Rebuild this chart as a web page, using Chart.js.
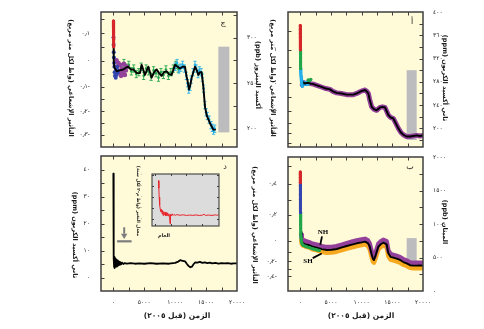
<!DOCTYPE html>
<html lang="ar"><head><meta charset="utf-8">
<script src="https://cdn.jsdelivr.net/npm/chart.js@4.4.1/dist/chart.umd.min.js"></script>
<style>
html,body{margin:0;padding:0;background:#fff;}
#wrap{position:relative;width:484px;height:329px;overflow:hidden;background:#fff}
#wrap canvas{position:absolute;left:0;top:0}
</style></head><body>
<div id="wrap">
<canvas id="pC" width="484" height="329"></canvas>
<canvas id="pA" width="484" height="329"></canvas>
<canvas id="pD" width="484" height="329"></canvas>
<canvas id="pB" width="484" height="329"></canvas>
<canvas id="pI" width="484" height="329"></canvas>
</div>
<script>
// ---------------- data ----------------
const xTickVals = [0, 5000, 10000, 15000, 20000];
const xTickLabels = ['٠', '٥٠٠٠', '١٠٠٠٠', '١٥٠٠٠', '٢٠٠٠٠'];
const xMinorVals = [0, 2500, 5000, 7500, 10000, 12500, 15000, 17500, 20000];

// CO2 (panel أ)
const co2PpmTicks = [200, 240, 280, 320, 360, 400];
const co2PpmLabels = ['٢٠٠', '٢٤٠', '٢٨٠', '٣٢٠', '٣٦٠', '٤٠٠'];
const co2PpmMinor = [180, 200, 220, 240, 260, 280, 300, 320, 340, 360, 380, 400];
const co2RfTicks = [1, 0, -1, -2];
const co2RfLabels = ['١', '٠', '١-', '٢-'];
const co2RfMinor = [1.5, 1, 0.5, 0, -0.5, -1, -1.5, -2, -2.5];
const co2Line = [[0,375],[15,355],[30,335],[50,315],[75,305],[100,298],[150,288],[200,283],[250,279],[330,275],[500,279],[800,277],[1000,278],[1315,278],[1700,277],[2128,276],[2700,274],[3215,272],[4000,269],[4845,267],[5400,263],[5931,261],[6700,260],[7561,258],[8100,258],[8648,258],[9200,260],[9733,263],[10200,265],[10548,266],[10800,264],[11092,260],[11300,250],[11635,237],[12000,233],[12450,231],[12993,236],[13400,237],[13807,236],[14100,229],[14350,223],[14700,219],[15165,217],[15600,208],[15980,200],[16400,193],[16795,189],[17300,186],[17882,186],[18400,187],[18969,188],[19500,187],[20000,188]];
const co2Red = [[0,377],[4,370],[8,363],[12,356],[18,349],[24,342],[32,335]];
const co2Green = [[32,335],[38,329],[45,322],[52,315],[60,309],[68,303]];
const co2GreenLate = [[1300,283],[1500,282],[1700,284]];
const co2Blue = [[68,303],[80,300],[95,296],[110,292],[130,289],[160,285],[200,281],[260,277],[320,272]];
const co2BlueLate = [[400,276],[600,279],[800,276],[1000,278],[1200,276]];
const co2Gray = [[17340, 180], [18970, 300]];

// N2O (panel ج)
const n2oPpbTicks = [200, 250, 300];
const n2oPpbLabels = ['٢٠٠', '٢٥٠', '٣٠٠'];
const n2oPpbMinor = [200, 225, 250, 275, 300, 325];
const n2oRfTicks = [0.1, 0, -0.1, -0.2, -0.3];
const n2oRfLabels = ['٠٫١', '٠', '٠٫١-', '٠٫٢-', '٠٫٣-'];
const n2oRfMinor = [0.15, 0.1, 0.05, 0, -0.05, -0.1, -0.15, -0.2, -0.25, -0.3, -0.35];
const n2oLine = [[0,316],[30,300],[60,285],[100,275],[150,268],[265,266],[534,263],[1000,264],[1612,265],[2000,267],[2421,268],[2800,265],[3230,265],[3800,261],[4309,261],[4578,270],[5117,259],[5657,268],[6196,256],[6600,262],[7005,265],[7400,261],[7813,258],[8200,262],[8622,263],[9000,260],[9431,259],[9970,270],[10400,268],[10779,266],[11200,268],[11588,268],[11850,257],[12019,252],[12235,243],[12450,248],[12666,256],[13205,268],[13500,264],[13745,259],[14000,262],[14284,262],[14553,246],[14823,224],[15093,215],[15632,206],[16171,199],[16441,199]];
const n2oRed = [[0,318],[15,312],[30,305],[50,298],[80,290]];
const n2oBlue = [[20,300],[40,292],[60,284],[90,278],[120,272],[160,268],[200,262],[250,258],[300,262],[380,256],[450,265],[520,259],[600,268],[700,261],[800,264]];
const n2oPurple = [[500,275],[650,268],[800,272],[950,262],[1100,270],[1250,258],[1400,266],[1550,262],[1700,271],[1850,259],[2000,264],[2150,268]];
const n2oGreen = [[1700,272],[2100,267],[2500,270],[2900,263],[3300,266],[3700,260],[4100,262],[4500,268],[4900,258],[5300,266],[5700,263],[6100,257],[6500,264],[6900,261],[7300,256],[7700,262],[8100,259],[8500,265],[8900,258],[9300,262],[9700,266],[10100,270],[10500,266]];
const n2oCyan = [[10000,268],[10300,272],[10600,265],[10900,267],[11200,270],[11500,266],[11800,258],[12000,250],[12200,243],[12400,246],[12600,254],[12900,262],[13200,270],[13400,266],[13700,260],[13900,264],[14200,262],[14400,256],[14600,244],[14800,226],[15000,218],[15200,214],[15500,210],[15800,204],[16000,201],[16200,198],[16400,200]];
const n2oGray = [[16980, 196], [18760, 290]];

// CH4 (panel ب)
const ch4PpbTicks = [0, 500, 1000, 1500, 2000];
const ch4PpbLabels = ['٠', '٥٠٠', '١٠٠٠', '١٥٠٠', '٢٠٠٠'];
const ch4PpbMinor = [0, 250, 500, 750, 1000, 1250, 1500, 1750, 2000];
const ch4RfTicks = [0.4, 0.2, 0, -0.2, -0.4];
const ch4RfLabels = ['٠٫٤', '٠٫٢', '٠', '٠٫٢-', '٠٫٤-'];
const ch4RfMinor = [0.5, 0.4, 0.3, 0.2, 0.1, 0, -0.1, -0.2, -0.3, -0.4];
const ch4Line = [[0,1775],[20,1650],[40,1450],[60,1200],[90,1000],[120,880],[180,790],[250,745],[400,722],[500,712],[800,700],[1315,687],[2000,662],[2677,647],[3500,625],[4306,612],[5100,615],[5935,627],[6800,650],[7565,672],[8400,692],[9195,712],[10000,726],[10548,736],[11000,715],[11300,670],[11600,560],[11850,478],[12015,463],[12300,540],[12715,661],[13100,697],[13530,721],[14080,697],[14350,562],[14700,510],[15160,498],[15700,482],[16250,463],[16800,432],[17340,413],[17900,385],[18420,378],[19000,378],[19500,380],[20000,378]];
const ch4NH = [[150,840],[250,790],[400,765],[600,755],[1000,742],[1500,725],[2000,705],[2700,690],[3500,668],[4300,655],[5100,658],[5900,670],[6800,692],[7600,715],[8400,735],[9200,755],[10000,768],[10550,778],[11000,758],[11300,712],[11600,602],[11850,520],[12020,505],[12300,582],[12720,703],[13100,740],[13530,763],[14080,740],[14350,605],[14700,552],[15160,540],[15700,524],[16250,505],[16800,474],[17340,455],[17900,427],[18420,420],[19000,420],[19500,422],[20000,420]];
const ch4SH = [[150,760],[250,705],[400,682],[600,672],[1000,660],[1500,648],[2000,622],[2700,607],[3500,585],[4300,572],[5100,575],[5900,587],[6800,610],[7600,632],[8400,652],[9200,672],[10000,686],[10550,696],[11000,675],[11300,630],[11600,520],[11850,438],[12020,423],[12300,500],[12720,621],[13100,657],[13530,681],[14080,657],[14350,522],[14700,470],[15160,458],[15700,442],[16250,423],[16800,392],[17340,373],[17900,345],[18420,338],[19000,338],[19500,340],[20000,338]];
const ch4Red = [[0,1775],[4,1735],[8,1695],[12,1655],[16,1620]];
const ch4Blue = [[16,1620],[20,1580],[24,1510],[28,1440],[32,1370],[36,1300],[40,1230],[45,1170]];
const ch4Green = [[45,1170],[50,1110],[58,1050],[66,990],[75,930],[85,870],[100,830],[130,790],[180,740],[300,700],[500,680],[800,668],[1200,655],[1600,645],[2000,630],[2600,615],[3100,605]];
const ch4Gray = [[17340, 400], [18970, 790]];
const ch4Notes = { NH: [3700, 885], SH: [1250, 448] };
const ch4Pointers = { NH: [[3540, 815], [3260, 690]], SH: [[2020, 490], [3490, 560]] };

// rate of change (panel د)
const rateTicks = [0, 10, 20, 30, 40];
const rateLabels = ['٠', '١٠', '٢٠', '٣٠', '٤٠'];
const rateMinor = [-5, 0, 5, 10, 15, 20, 25, 30, 35, 40, 45];
const rateLine = [[0,38.5],[20,30],[40,20],[60,12],[90,7],[120,4],[150,7.5],[180,3.5],[220,7.2],[260,3.8],[300,6.8],[350,4.2],[400,7],[450,4],[500,6.5],[560,4.5],[620,6.3],[700,4.3],[780,6],[860,4.6],[950,5.8],[1050,4.7],[1150,5.6],[1250,4.9],[1400,5.5],[1600,5.0],[1800,5.3],[2200,5.1],[2800,5.3],[3500,5.1],[4200,5.2],[5000,5.1],[6000,5.3],[7000,5.1],[8000,5.2],[9000,5.1],[10000,5.4],[10500,5.9],[10800,6.4],[11200,6.2],[11600,6.0],[11900,5.0],[12150,4.3],[12450,3.8],[12700,4.0],[13000,5.0],[13250,5.6],[13600,5.5],[14000,5.8],[14400,5.4],[14800,5.6],[15200,5.3],[15600,5.5],[16000,5.2],[16500,5.4],[17000,5.1],[17500,5.3],[18000,5.2],[18500,5.3],[19000,5.1],[19500,5.2],[20000,5.2]];
const rateArrow = { x: 1750, top: 18.6, head: 16.2, tip: 14.3, barY: 13.4, barFrom: 600, barTo: 2950 };

// inset
const insetXTicks = [20000, 15000, 10000, 5000, 0];
const insetXLabels = ['٢٠٠٠٠', '١٥٠٠٠', '١٠٠٠٠', '٥٠٠٠', '٠'];
const insetYTicks = [0, 10, 20, 30, 40];
const insetYLabels = ['٠', '١٠', '٢٠', '٣٠', '٤٠'];
const insetRed = [[18750,35],[18650,28],[18550,20],[18400,13],[18200,9],[18000,7],[17800,9],[17650,5],[17500,8],[17300,3.5],[17100,7],[16900,4],[16700,6.5],[16500,3],[16300,6],[16100,3.5],[15900,5.5],[15700,3],[15500,5],[15300,2.5],[15150,-4],[15000,4.5],[14800,3],[14500,5],[14200,3.5],[13900,4.5],[13500,3.6],[13000,4.3],[12000,3.7],[11000,4.1],[10000,3.5],[9000,3.9],[8000,3.6],[7000,4.0],[6000,3.5],[5000,3.8],[4500,4.6],[4000,3.6],[3000,3.9],[2000,3.5],[1000,4.1],[500,3.7],[0,4.0]];

// ---------------- helpers ----------------
const F = '"DejaVu Sans", sans-serif';
const W = 484, H = 329;
const rfToCO2 = f => 278 * Math.exp(f / 5.35);
const rfToN2O = f => Math.pow(Math.sqrt(274.5) + f / 0.113, 2);
const rfToCH4 = f => Math.pow(Math.sqrt(751) + f / 0.0317, 2);
const pts = a => a.map(([x, y]) => ({ x, y }));
const RF_TITLE = 'التأثير الإشعاعي (واط لكل متر مربع)';
const X_TITLE = 'الزمن (قبل ٢٠٠٥)';

const C = { red:'#d7262b', blue:'#3546b0', purple:'#93409a', green:'#22a64c', cyan:'#25b0ea', orange:'#f6a91f', gray:'#bcbcbe', frame:'#3f3f3f', text:'#1a1a1a' };

function lineDs(data, color, width) {
  return { data: pts(data), showLine: true, pointRadius: 0, borderColor: color, backgroundColor: color, borderWidth: width, tension: 0, borderJoinStyle: 'round', borderCapStyle: 'round' };
}
function bandDs(data, color, width, r) {
  return { data: pts(data), showLine: true, pointRadius: r, pointBorderWidth: 0, borderColor: color, backgroundColor: color, borderWidth: width, tension: 0, borderJoinStyle: 'round', borderCapStyle: 'round' };
}
function dotDs(data, color, r, err) {
  return { data: pts(data), showLine: false, pointRadius: r, pointBorderWidth: 0, backgroundColor: color, borderColor: color, errY: err || 0 };
}

function drawText(ctx, t) {
  ctx.save();
  ctx.translate(t.x, t.y);
  if (t.rot) ctx.rotate(Math.PI / 2);
  ctx.font = (t.bold ? 'bold ' : '') + t.size + 'px ' + (t.family || F);
  ctx.fillStyle = C.text;
  ctx.textAlign = 'center';
  ctx.textBaseline = 'middle';
  ctx.direction = t.ltr ? 'ltr' : 'rtl';
  ctx.fillText(t.t, 0, 0);
  ctx.restore();
}

function panel(id, P) {
  const a = P.area;
  const wL = P.wL || 30, wR = P.wR || 30, hB = P.hB || 20;
  const tickFont = { family: F, size: P.tickSize || 6 };
  const yAxis = (side, spec, w) => ({
    type: 'linear', position: side, min: P.ymin, max: P.ymax,
    grid: { display: false }, border: { display: false },
    ticks: { display: !!(spec && spec.labels), autoSkip: false, padding: side === 'left' ? (P.lPad || 3) : (P.rPad || 2), font: tickFont, color: C.text,
      callback: (v, i) => (spec && spec.labels) ? spec.labels[i] : '' },
    afterBuildTicks: s => { s.ticks = (spec ? spec.values : [P.ymin, P.ymax]).map(v => ({ value: v })); },
    afterFit: s => { s.width = w; }
  });
  const scales = {
    x: { type: 'linear', position: 'bottom', min: P.xmin, max: P.xmax, reverse: !!P.xrev,
      grid: { display: false }, border: { display: false },
      ticks: { display: !!P.xLabels, autoSkip: false, maxRotation: 0, padding: P.xPad, font: tickFont, color: C.text,
        callback: (v, i) => P.xLabels ? P.xLabels[i] : '' },
      afterBuildTicks: s => { s.ticks = P.xTicks.map(v => ({ value: v })); },
      afterFit: s => { s.height = hB; } },
    y: yAxis('right', P.right, wR),
    yL: yAxis('left', P.left, wL)
  };
  const bg = { id: 'bg', beforeDraw(ch) {
    const c = ch.ctx, r = ch.chartArea;
    c.save(); c.fillStyle = P.bg; c.fillRect(r.left, r.top, r.right - r.left, r.bottom - r.top); c.restore();
  }, beforeDatasetsDraw(ch) {
    const c = ch.ctx, r = ch.chartArea, sx = ch.scales.x, sy = ch.scales.y;
    c.save(); c.beginPath(); c.rect(r.left, r.top, r.right - r.left, r.bottom - r.top); c.clip();
    if (P.gray) {
      const x0 = sx.getPixelForValue(P.gray[0][0]), x1 = sx.getPixelForValue(P.gray[1][0]);
      const y0 = sy.getPixelForValue(P.gray[0][1]), y1 = sy.getPixelForValue(P.gray[1][1]);
      c.fillStyle = C.gray; c.fillRect(x0, y1, x1 - x0, y0 - y1);
    }
    ch.data.datasets.forEach(ds => {
      if (!ds.errY) return;
      c.strokeStyle = ds.backgroundColor; c.lineWidth = 0.9;
      ds.data.forEach(p => {
        const x = sx.getPixelForValue(p.x);
        const ya = sy.getPixelForValue(p.y - ds.errY), yb = sy.getPixelForValue(p.y + ds.errY);
        c.beginPath();
        c.moveTo(x, ya); c.lineTo(x, yb);
        c.moveTo(x - 1.6, ya); c.lineTo(x + 1.6, ya);
        c.moveTo(x - 1.6, yb); c.lineTo(x + 1.6, yb);
        c.stroke();
      });
    });
    c.restore();
  } };
  const frame = { id: 'frame', afterDatasetsDraw(ch) {
    const c = ch.ctx, r = ch.chartArea, sx = ch.scales.x, sy = ch.scales.y;
    c.save();
    if (P.notes) P.notes(c, sx, sy, r);
    c.strokeStyle = C.frame; c.lineWidth = P.frameW || 1.5;
    c.strokeRect(r.left, r.top, r.right - r.left, r.bottom - r.top);
    c.lineWidth = 1;
    const TL = P.tl || 3.5;
    const seg = (x1, y1, x2, y2) => { c.beginPath(); c.moveTo(x1, y1); c.lineTo(x2, y2); c.stroke(); };
    (P.xMinor || []).forEach(v => {
      const x = Math.round(sx.getPixelForValue(v)) + 0.5;
      if (x < r.left + 1 || x > r.right - 1) return;
      seg(x, r.bottom, x, r.bottom - TL); seg(x, r.top, x, r.top + TL);
    });
    (P.leftMinor || []).forEach(v => {
      const y = Math.round(sy.getPixelForValue(v)) + 0.5;
      if (y < r.top + 1 || y > r.bottom - 1) return;
      seg(r.left, y, r.left + TL, y);
    });
    (P.rightMinor || []).forEach(v => {
      const y = Math.round(sy.getPixelForValue(v)) + 0.5;
      if (y < r.top + 1 || y > r.bottom - 1) return;
      seg(r.right, y, r.right - TL, y);
    });
    c.restore();
  }, afterDraw(ch) {
    (P.titles || []).forEach(t => drawText(ch.ctx, t));
  } };
  return new Chart(document.getElementById(id), {
    type: 'scatter',
    data: { datasets: P.datasets },
    options: {
      responsive: false, animation: false, devicePixelRatio: 1, events: [],
      layout: { padding: { left: a.l - wL, top: a.t, right: W - a.r - wR, bottom: H - a.b - hB } },
      plugins: { legend: { display: false }, tooltip: { enabled: false } },
      scales
    },
    plugins: [bg, frame]
  });
}

const CREAM = '#fffad8';

// panel ج : N2O
panel('pC', {
  area: { l: 101, t: 12, r: 237, b: 147 }, xmin: -2000, xmax: 20000, ymin: 180, ymax: 328, bg: CREAM,
  xTicks: xTickVals, xMinor: xMinorVals, xPad: 0,
  right: { values: n2oPpbTicks, labels: n2oPpbLabels }, rightMinor: n2oPpbMinor,
  left: { values: n2oRfTicks.map(rfToN2O), labels: n2oRfLabels }, leftMinor: n2oRfMinor.map(rfToN2O),
  gray: n2oGray,
  datasets: [
    bandDs(n2oRed, C.red, 3, 1.5),
    lineDs(n2oLine, '#000', 1.9),
    dotDs(n2oBlue, C.blue, 2),
    dotDs(n2oPurple, C.purple, 2.4),
    dotDs(n2oGreen, C.green, 1.3, 4),
    dotDs(n2oCyan, C.cyan, 1.3, 4)
  ],
  titles: [
    { t: RF_TITLE, x: 71, y: 78, size: 6.5, bold: true, rot: true },
    { t: 'أكسيد النيتروز (ppb)', x: 258, y: 75, size: 6.5, bold: true, rot: true },
    { t: 'ج', x: 223, y: 23, size: 8 }
  ]
});

// panel أ : CO2
panel('pA', {
  area: { l: 288, t: 12, r: 423, b: 147 }, xmin: -2000, xmax: 20000, ymin: 168, ymax: 400, bg: CREAM,
  xTicks: xTickVals, xMinor: xMinorVals, xPad: 0,
  right: { values: co2PpmTicks, labels: co2PpmLabels }, rightMinor: co2PpmMinor,
  left: { values: co2RfTicks.map(rfToCO2), labels: co2RfLabels }, leftMinor: co2RfMinor.map(rfToCO2),
  gray: co2Gray,
  datasets: [
    bandDs(co2Red, C.red, 3, 1.5),
    bandDs(co2Green, C.green, 3, 1.5),
    bandDs(co2Blue, C.cyan, 3, 1.5),
    lineDs(co2Line, '#000', 1.9),
    dotDs(co2GreenLate, C.green, 1.8),
    dotDs(co2BlueLate, C.cyan, 1.9),
    lineDs(co2Line.filter(p => p[0] >= 300), C.purple, 5)
  ],
  titles: [
    { t: RF_TITLE, x: 273, y: 78, size: 6.5, bold: true, rot: true },
    { t: 'ثاني أكسيد الكربون (ppm)', x: 445, y: 78, size: 6.5, bold: true, rot: true },
    { t: 'أ', x: 412, y: 22, size: 8 }
  ]
});

// panel د : rate of change
panel('pD', {
  area: { l: 101, t: 156, r: 237, b: 291 }, xmin: -2000, xmax: 20000, ymin: -5, ymax: 45, bg: CREAM,
  xTicks: xTickVals, xLabels: xTickLabels, xMinor: xMinorVals, xPad: 0,
  left: { values: rateTicks, labels: rateLabels }, leftMinor: rateMinor,
  right: { values: rateTicks }, rightMinor: [],
  datasets: [ lineDs(rateLine, '#000', 1.8) ],
  notes: (c, sx, sy) => {
    const ar = rateArrow;
    c.strokeStyle = '#7d7d7d'; c.fillStyle = '#7d7d7d';
    const x = sx.getPixelForValue(ar.x);
    c.lineWidth = 2;
    c.beginPath(); c.moveTo(x, sy.getPixelForValue(ar.top)); c.lineTo(x, sy.getPixelForValue(ar.head)); c.stroke();
    const hb = sy.getPixelForValue(ar.head), tp = sy.getPixelForValue(ar.tip);
    c.beginPath(); c.moveTo(x - 3.2, hb); c.lineTo(x + 3.2, hb); c.lineTo(x, tp); c.closePath(); c.fill();
    c.lineWidth = 2.2;
    const by = sy.getPixelForValue(ar.barY);
    c.beginPath(); c.moveTo(sx.getPixelForValue(ar.barFrom), by); c.lineTo(sx.getPixelForValue(ar.barTo), by); c.stroke();
  },
  titles: [
    { t: 'ثاني أكسيد الكربون (ppm)', x: 75, y: 235, size: 6.5, bold: true, rot: true },
    { t: X_TITLE, x: 177, y: 316, size: 7.5, bold: true },
    { t: 'د', x: 225, y: 167, size: 8 }
  ]
});

// panel ب : CH4
panel('pB', {
  area: { l: 288, t: 157, r: 423, b: 291 }, xmin: -2000, xmax: 20000, ymin: 0, ymax: 2000, bg: CREAM,
  xTicks: xTickVals, xLabels: xTickLabels, xMinor: xMinorVals, xPad: 0,
  right: { values: ch4PpbTicks, labels: ch4PpbLabels }, rightMinor: ch4PpbMinor,
  left: { values: ch4RfTicks.map(rfToCH4), labels: ch4RfLabels }, leftMinor: ch4RfMinor.map(rfToCH4),
  gray: ch4Gray,
  datasets: [
    bandDs(ch4Red, C.red, 3, 1.5),
    bandDs(ch4Blue, C.blue, 3, 1.5),
    bandDs(ch4Green, C.green, 3, 1.5),
    lineDs(ch4Line, '#000', 1.9),
    lineDs(ch4NH, C.purple, 4.5),
    lineDs(ch4SH, C.orange, 4.5)
  ],
  notes: (c, sx, sy) => {
    c.strokeStyle = '#000'; c.lineWidth = 1.8;
    Object.values(ch4Pointers).forEach(pp => {
      c.beginPath();
      c.moveTo(sx.getPixelForValue(pp[0][0]), sy.getPixelForValue(pp[0][1]));
      c.lineTo(sx.getPixelForValue(pp[1][0]), sy.getPixelForValue(pp[1][1]));
      c.stroke();
    });
    c.fillStyle = '#000'; c.font = 'bold 7px "Liberation Serif", serif'; c.textAlign = 'center'; c.textBaseline = 'middle';
    Object.entries(ch4Notes).forEach(([k, v]) => c.fillText(k, sx.getPixelForValue(v[0]), sy.getPixelForValue(v[1])));
  },
  titles: [
    { t: RF_TITLE, x: 255, y: 225, size: 6.5, bold: true, rot: true },
    { t: 'الميثان (ppb)', x: 445, y: 222, size: 6.5, bold: true, rot: true },
    { t: X_TITLE, x: 361, y: 316, size: 7.5, bold: true },
    { t: 'ب', x: 410, y: 167, size: 8 }
  ]
});

// inset of panel د
panel('pI', {
  area: { l: 152, t: 174, r: 219, b: 226 }, xmin: -200, xmax: 20800, xrev: true, ymin: -6, ymax: 41, bg: '#dcdcdc',
  tickSize: 4.3, lPad: 1.5, xPad: 0.5, tl: 2, frameW: 1.1, wL: 12, wR: 4, hB: 8,
  xTicks: insetXTicks, xLabels: insetXLabels, xMinor: insetXTicks,
  left: { values: insetYTicks, labels: insetYLabels }, leftMinor: insetYTicks,
  right: { values: insetYTicks }, rightMinor: insetYTicks,
  datasets: [ lineDs(insetRed, '#e8262b', 1) ],
  titles: [
    { t: 'معدل التغير (واط م-٢ لكل سنة)', x: 138, y: 201, size: 4.5, bold: true, rot: true },
    { t: 'العام', x: 164, y: 236, size: 5, bold: true }
  ]
});
</script>
</body></html>
